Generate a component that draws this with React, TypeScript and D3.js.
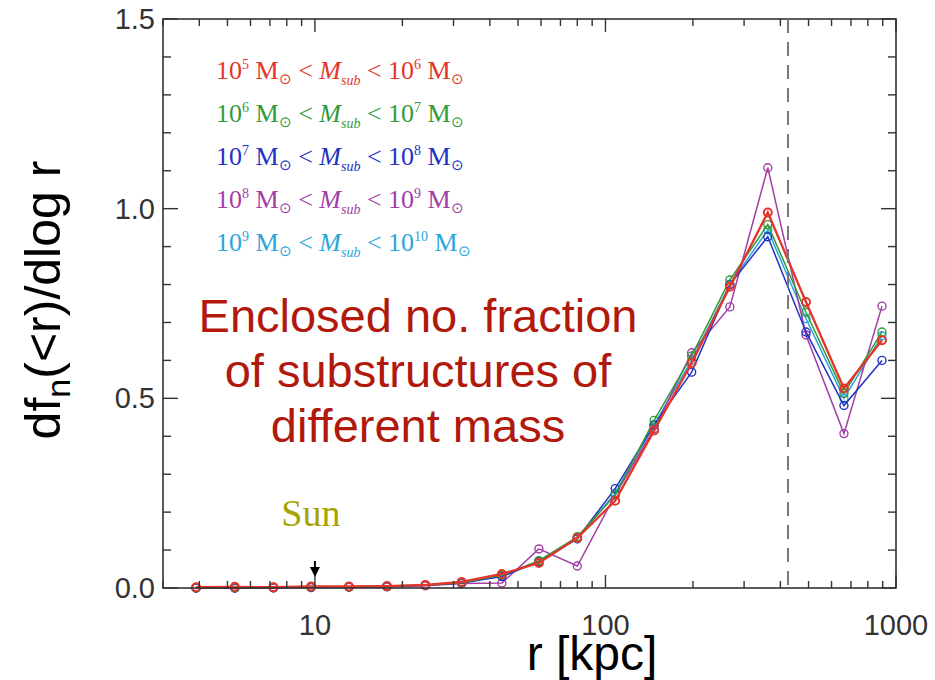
import React from 'react';
import * as d3 from 'd3';

// radial bins (kpc) and the five mass-bin curves
const radii = [3.9, 5.3, 7.2, 9.7, 13.1, 17.7, 24, 32, 44, 59, 80, 108, 147, 198, 268, 362, 490, 662, 895];
const redVals = [0.002, 0.003, 0.002, 0.004, 0.004, 0.005, 0.008, 0.016, 0.037, 0.066, 0.132, 0.23, 0.415, 0.593, 0.794, 0.99, 0.754, 0.526, 0.653];
const greenVals = [0.001, 0.001, 0.002, 0.003, 0.003, 0.005, 0.008, 0.014, 0.034, 0.072, 0.135, 0.245, 0.442, 0.612, 0.812, 0.958, 0.727, 0.513, 0.675];
const blueVals = [0, 0, 0.001, 0.002, 0.003, 0.004, 0.007, 0.013, 0.03, 0.07, 0.13, 0.262, 0.43, 0.569, 0.8, 0.926, 0.675, 0.481, 0.6];
const purpleVals = [0, 0, 0, 0.001, 0.002, 0.003, 0.006, 0.012, 0.013, 0.103, 0.058, 0.245, 0.42, 0.62, 0.741, 1.108, 0.667, 0.407, 0.743];
const cyanVals = [0, 0, 0.001, 0.002, 0.003, 0.004, 0.007, 0.014, 0.032, 0.068, 0.13, 0.25, 0.43, 0.6, 0.8, 0.944, 0.71, 0.5, 0.665];

const massLow = ['5', '6', '7', '8', '9'];
const massHigh = ['6', '7', '8', '9', '10'];
const colors = ['#e5352b', '#2f9c3c', '#2232c4', '#a23ea6', '#2aa6da'];
const allVals = [redVals, greenVals, blueVals, purpleVals, cyanVals];
const drawOrder = [4, 3, 2, 1, 0];

const xMajor = [10, 100, 1000];
const xMinor = [3, 4, 5, 6, 7, 8, 9, 20, 30, 40, 50, 60, 70, 80, 90, 200, 300, 400, 500, 600, 700, 800, 900];
const yMajor = [0, 0.5, 1.0, 1.5];
const yMinor = [0.1, 0.2, 0.3, 0.4, 0.6, 0.7, 0.8, 0.9, 1.1, 1.2, 1.3, 1.4];

const rVir = 425;
const rSun = 10;
const noteLines = ['Enclosed no. fraction', 'of substructures of', 'different mass'];

const SANS = 'Liberation Sans, Arial, Helvetica, sans-serif';
const SERIF = 'Liberation Serif, Times New Roman, serif';

export default function App() {
  const left = 163, right = 896, top = 19, bottom = 588;
  const x = d3.scaleLog().domain([3, 1000]).range([left, right]);
  const y = d3.scaleLinear().domain([0, 1.5]).range([bottom, top]);
  const line = d3.line<number>()
    .x((_, i) => x(radii[i]))
    .y(d => y(d));

  const sunX = x(rSun);

  return (
    <svg width={935} height={680} style={{ position: 'absolute', left: 0, top: 0, background: '#fff' }}>
      {/* curves */}
      {drawOrder.map(k => (
        <g key={k}>
          <path d={line(allVals[k]) || ''} fill="none" stroke={colors[k]} strokeWidth={k === 0 ? 2.3 : 1.5} />
          {allVals[k].map((v, i) => (
            <circle key={i} cx={x(radii[i])} cy={y(v)} r={4} fill="none" stroke={colors[k]} strokeWidth={k === 0 ? 2 : 1.4} />
          ))}
        </g>
      ))}

      {/* frame */}
      <rect x={left} y={top} width={right - left} height={bottom - top} fill="none" stroke="#333" strokeWidth={1.6} />
      {xMajor.map(t => (
        <g key={'xM' + t} stroke="#333" strokeWidth={1.4}>
          <line x1={x(t)} x2={x(t)} y1={bottom} y2={bottom - 13} />
          <line x1={x(t)} x2={x(t)} y1={top} y2={top + 13} />
        </g>
      ))}
      {xMinor.map(t => (
        <g key={'xm' + t} stroke="#333" strokeWidth={1.4}>
          <line x1={x(t)} x2={x(t)} y1={bottom} y2={bottom - 7} />
          <line x1={x(t)} x2={x(t)} y1={top} y2={top + 7} />
        </g>
      ))}
      {yMajor.map(t => (
        <g key={'yM' + t} stroke="#333" strokeWidth={1.4}>
          <line x1={left} x2={left + 15} y1={y(t)} y2={y(t)} />
          <line x1={right} x2={right - 15} y1={y(t)} y2={y(t)} />
        </g>
      ))}
      {yMinor.map(t => (
        <g key={'ym' + t} stroke="#333" strokeWidth={1.4}>
          <line x1={left} x2={left + 8} y1={y(t)} y2={y(t)} />
          <line x1={right} x2={right - 8} y1={y(t)} y2={y(t)} />
        </g>
      ))}

      {/* tick labels */}
      {xMajor.map(t => (
        <text key={'xl' + t} x={x(t)} y={635} textAnchor="middle" fontFamily={SANS} fontSize={29} fill="#333">{t}</text>
      ))}
      {yMajor.map(t => (
        <text key={'yl' + t} x={155} y={y(t) + 10} textAnchor="end" fontFamily={SANS} fontSize={29} fill="#333">{t.toFixed(1)}</text>
      ))}

      {/* dashed virial radius */}
      <line x1={x(rVir)} x2={x(rVir)} y1={top} y2={bottom} stroke="#777" strokeWidth={2} strokeDasharray="14 9" />

      {/* Sun marker */}
      <line x1={sunX} x2={sunX} y1={561} y2={570} stroke="#000" strokeWidth={2} />
      <path d={`M${sunX - 5},567 L${sunX + 5},567 L${sunX},577 Z`} fill="#000" />
      <text x={sunX - 4} y={526} textAnchor="middle" fontFamily={SERIF} fontSize={38} fill="#a8a300">Sun</text>

      {/* legend */}
      {colors.map((c, i) => (
        <text key={'lg' + i} x={216} y={79 + i * 43} fontFamily={SERIF} fontSize={26} fill={c}>
          <tspan>10</tspan>
          <tspan dy={-10} fontSize={14}>{massLow[i]}</tspan>
          <tspan dy={10}> M</tspan>
          <tspan dy={5} fontSize={15}>⊙</tspan>
          <tspan dy={-5}> &lt; </tspan>
          <tspan fontStyle="italic">M</tspan>
          <tspan dy={6} fontSize={14} fontStyle="italic">sub</tspan>
          <tspan dy={-6}> &lt; 10</tspan>
          <tspan dy={-10} fontSize={14}>{massHigh[i]}</tspan>
          <tspan dy={10}> M</tspan>
          <tspan dy={5} fontSize={15}>⊙</tspan>
        </text>
      ))}

      {/* annotation */}
      {noteLines.map((s, i) => (
        <text key={'n' + i} x={418} y={332 + i * 55} textAnchor="middle" fontFamily={SANS} fontSize={47} fill="#b0190c">{s}</text>
      ))}

      {/* axis titles */}
      <text x={592} y={670} textAnchor="middle" fontFamily={SANS} fontSize={48} fill="#000">r [kpc]</text>
      <text transform="translate(60,300) rotate(-90)" textAnchor="middle" fontFamily={SANS} fontSize={50} fill="#000">
        <tspan>df</tspan>
        <tspan dy={10} fontSize={34}>n</tspan>
        <tspan dy={-10}>(&lt;r)/dlog r</tspan>
      </text>
    </svg>
  );
}
